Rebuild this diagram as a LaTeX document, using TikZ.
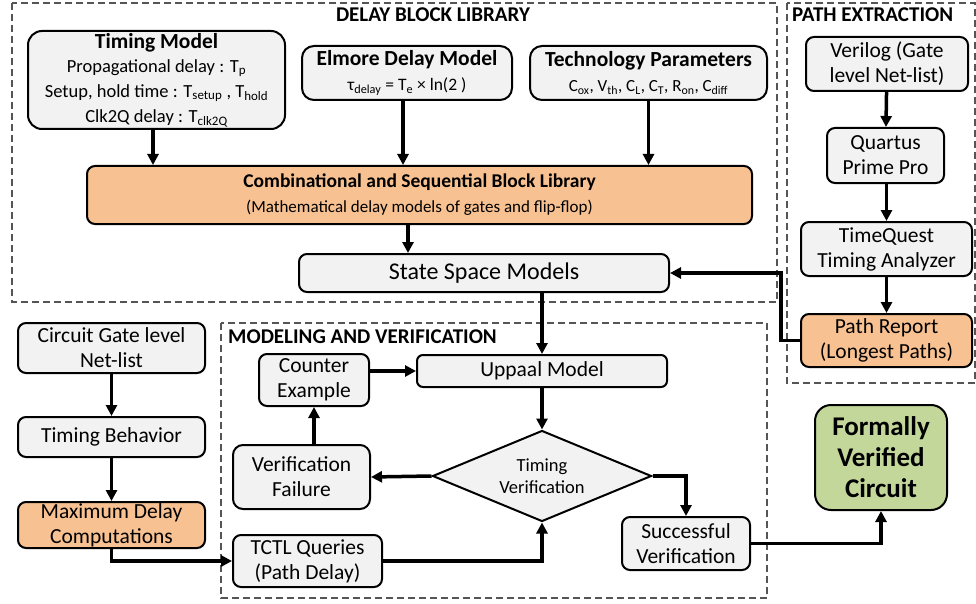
\documentclass[tikz,border=0pt]{standalone}
\usepackage{fontspec}
\setmainfont{Carlito}
\usetikzlibrary{arrows.meta,shapes.geometric}
\definecolor{bgray}{HTML}{F2F2F2}
\definecolor{borange}{HTML}{F8C191}
\definecolor{bgreen}{HTML}{C4D79B}
\definecolor{dgray}{HTML}{555555}
\newcommand{\fsz}[2]{\fontsize{#1}{#2}\selectfont}
\begin{document}
\begin{tikzpicture}[x=1pt,y=-1pt,
 box/.style={draw, line width=2pt, rounded corners=8pt, fill=bgray, align=center, inner sep=0pt, font=\fsz{21.5}{25}},
 obox/.style={box, fill=borange},
 arr/.style={line width=3.5pt, -{Triangle[length=11pt,width=11pt]}},
 frame/.style={draw=dgray, line width=1.2pt, dash pattern=on 7pt off 4pt},
 sect/.style={font=\bfseries\fsz{21}{25}, inner sep=0pt}
 ]
\useasboundingbox (0,0) rectangle (976,604);
% frames
\draw[frame] (12,3) rectangle (777,302);
\draw[frame] (787,3) rectangle (975,383);
\draw[frame] (221,323) rectangle (767,598);
\node[sect] (t1) at (433,15) {DELAY BLOCK LIBRARY};
\node[sect, anchor=west] (t2) at (792,15) {PATH EXTRACTION};
\node[sect, anchor=west] (t3) at (228,337) {MODELING AND VERIFICATION};
% delay block library
\node[box, rounded corners=14pt, minimum width=257pt, minimum height=98pt] (tm) at (156.5,80)
 {{\bfseries\fsz{21.5}{24}Timing Model}\\[-1pt]
  \fsz{18.5}{21}Propagational delay : T\textsubscript{p}\\
  \fsz{18.5}{21}Setup, hold time : T\textsubscript{setup} , T\textsubscript{hold}\\
  \fsz{18.5}{21}Clk2Q delay : T\textsubscript{clk2Q}};
\node[box, rounded corners=12pt, minimum width=210pt, minimum height=54pt] (el) at (407,73)
 {{\bfseries\fsz{21.5}{24}Elmore Delay Model}\\
  \fsz{17.5}{21}τ\textsubscript{delay} = T\textsubscript{e} × ln(2 )};
\node[box, rounded corners=12pt, minimum width=237pt, minimum height=54pt] (tp) at (648.5,73)
 {{\bfseries\fsz{21.5}{24}Technology Parameters}\\
  \fsz{17}{21}C\textsubscript{ox}, V\textsubscript{th}, C\textsubscript{L}, C\textsubscript{T}, R\textsubscript{on}, C\textsubscript{diff}};
\node[obox, minimum width=665pt, minimum height=58pt] (cs) at (419.5,195)
 {{\bfseries\fsz{19.5}{23}Combinational and Sequential Block Library}\\
  \fsz{17}{21}(Mathematical delay models of gates and flip-flop)};
\node[box, minimum width=370pt, minimum height=38pt, font=\fsz{24}{27}] (ss) at (484,273) {State Space Models};
% path extraction
\node[box, minimum width=162pt, minimum height=54pt] (ver) at (887,64) {Verilog (Gate\\level Net-list)};
\node[box, minimum width=117pt, minimum height=55pt] (qp) at (885.5,155.5) {Quartus\\Prime Pro};
\node[box, minimum width=171pt, minimum height=54pt] (tq) at (886.5,249) {TimeQuest\\Timing Analyzer};
\node[obox, minimum width=171pt, minimum height=53pt] (pr) at (886.5,340.5) {Path Report\\(Longest Paths)};
% left column
\node[box, minimum width=187pt, minimum height=50pt] (cg) at (111.5,348) {Circuit Gate level\\Net-list};
\node[box, minimum width=187pt, minimum height=40pt] (tb) at (111.5,437) {Timing Behavior};
\node[obox, minimum width=187pt, minimum height=46pt] (md) at (111.5,525) {Maximum Delay\\Computations};
% modeling and verification
\node[box, rounded corners=6pt, minimum width=250pt, minimum height=32pt] (up) at (542,371) {Uppaal Model};
\node[box, minimum width=110pt, minimum height=52pt] (ce) at (314,380) {Counter\\Example};
\node[box, rounded corners=10pt, minimum width=137pt, minimum height=64pt] (vf) at (301.5,477) {Verification\\Failure};
\node[box, minimum width=149pt, minimum height=52pt] (tc) at (307.5,561) {TCTL Queries\\(Path Delay)};
\node[draw, line width=2pt, fill=bgray, diamond, aspect=2.4, minimum width=219pt, minimum height=91pt, inner sep=0pt, align=center, font=\fsz{18.5}{22}] (dm) at (542,476) {Timing\\Verification};
\node[box, minimum width=128pt, minimum height=53pt] (sv) at (686,543.5) {Successful\\Verification};
\node[box, fill=bgreen, rounded corners=16pt, minimum width=132pt, minimum height=105pt, font=\bfseries\fsz{27}{31}] (fv) at (881,457.5) {Formally\\Verified\\Circuit};
% connectors
\draw[arr] ([xshift=-3.5pt]tm.south) -- ([xshift=-3.5pt]tm.south |- cs.north);
\draw[arr] ([xshift=-4pt]el.south) -- ([xshift=-4pt]el.south |- cs.north);
\draw[arr] (tp.south) -- (tp.south |- cs.north);
\draw[arr] ([xshift=-11.5pt]cs.south) -- ([xshift=-11.5pt]cs.south |- ss.north);
\draw[arr] (up.north |- ss.south) -- (up.north);
\draw[arr] (ver) -- (qp);
\draw[arr] (qp.south -| tq.north) -- (tq.north);
\draw[arr] (tq) -- (pr);
\draw[arr] (pr.west) -- ++(-19pt,0) |- (ss.east);
\draw[arr] (cg) -- (tb);
\draw[arr] (tb) -- (md);
\draw[arr] (md.south) |- (tc.west);
\draw[arr] (ce.east |- up.west) -- (up.west);
\draw[arr] (ce.south |- vf.north) -- (ce.south);
\draw[arr] (up.south) -- (dm.north);
\draw[arr] (dm.west) -- (vf.east);
\draw[arr] (tc.east) -| (dm.south);
\draw[arr] (dm.east) -| (sv.north);
\draw[arr] (sv.east) -| (fv.south);
\end{tikzpicture}
\end{document}
